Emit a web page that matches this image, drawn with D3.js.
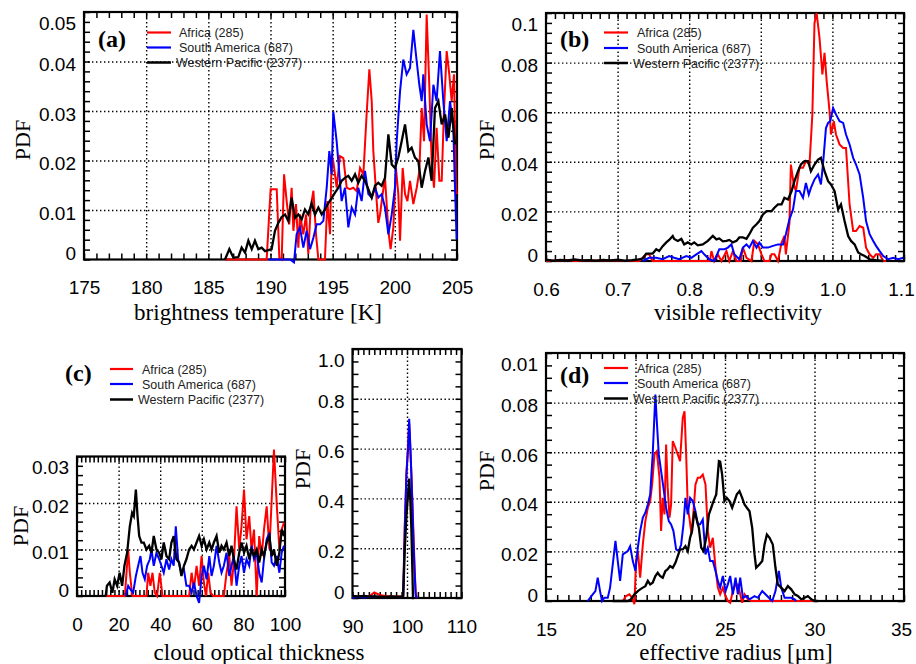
<!DOCTYPE html>
<html>
<head>
<meta charset="utf-8">
<script src="https://cdn.jsdelivr.net/npm/d3@7"></script>
<style>
  body { margin: 0; background: #fff; }
</style>
</head>
<body>
<svg id="chart" width="916" height="664"></svg>
<script>
const regions = ["Africa (285)", "South America (687)", "Western Pacific (2377)"];
const colors = ["#ff0000", "#0000ff", "#000000"];

// (a) brightness temperature [K], pairs of [value, PDF]
const tbAfrica = [[186.34,0],[189.69,0],[190.01,0.0142],[190.50,0.0142],[190.71,0.0004],[190.90,0],[191.09,0.0172],[191.30,0.0118],[191.51,0.0071],[191.70,0.0145],[191.84,0.0058],[192.05,0.0112],[192.24,0.0024],[192.37,0.0091],[192.64,0.0051],[192.86,0.0091],[193.04,0.0011],[193.23,0.0105],[193.45,0.0139],[193.66,0.0051],[193.85,0],[194.38,0],[194.57,0.0118],[194.79,0.0051],[194.92,0.0212],[195.05,0.0198],[195.32,0.0145],[195.59,0.0209],[195.86,0.0205],[196.13,0.0145],[196.39,0.0142],[196.66,0.0145],[196.93,0.0138],[197.20,0.0185],[197.47,0.0172],[197.73,0.0293],[197.95,0.0384],[198.14,0.0320],[198.27,0.0219],[198.54,0.0118],[198.67,0.0074],[198.81,0.0091],[199.02,0.0132],[199.21,0.0165],[199.48,0.0058],[199.66,0.0021],[199.88,0.0065],[200.09,0.0185],[200.28,0.0132],[200.42,0.0038],[200.63,0.0185],[200.82,0.0132],[201.01,0.0118],[201.22,0.0159],[201.49,0.0112],[201.76,0.0145],[201.97,0.0179],[202.16,0.0306],[202.35,0.0239],[202.56,0.0495],[202.77,0.0353],[202.96,0.0199],[203.15,0.0145],[203.36,0.0266],[203.58,0.0159],[203.77,0.0159],[203.95,0.0299],[204.17,0.0421],[204.38,0.0374],[204.57,0.0320],[204.76,0.0374],[204.92,0.0145],[205.0,0.0132]];
const tbSouthAmerica = [[189.83,0],[191.57,0],[191.89,-0.0006],[192.10,0.0051],[192.37,0.0065],[192.64,0.0024],[192.91,0.0058],[193.18,0.0021],[193.45,0.0044],[193.71,0.0071],[193.98,0.0071],[194.25,0.0078],[194.52,0.0145],[194.73,0.0219],[194.92,0.0172],[195.05,0.0299],[195.32,0.0239],[195.54,0.0172],[195.72,0.0118],[195.99,0.0145],[196.26,0.0065],[196.53,0.0105],[196.80,0.0091],[197.06,0.0145],[197.33,0.0118],[197.60,0.0179],[197.87,0.0132],[198.14,0.0125],[198.41,0.0145],[198.67,0.0125],[198.94,0.0132],[199.21,0.0105],[199.48,0.0051],[199.75,0.0091],[200.01,0.0145],[200.15,0.0239],[200.42,0.0340],[200.68,0.0404],[200.95,0.0374],[201.22,0.0387],[201.49,0.0464],[201.76,0.0400],[201.97,0.0353],[202.16,0.0320],[202.29,0.0374],[202.56,0.0273],[202.83,0.0239],[203.10,0.0353],[203.36,0.0320],[203.63,0.0421],[203.90,0.0320],[204.17,0.0239],[204.44,0.0320],[204.70,0.0266],[204.84,0.0145],[204.97,0.0041]];
const tbWestPacific = [[186.34,0],[186.69,0.0021],[187.01,0.0004],[187.41,0.0005],[187.68,0.0024],[187.95,0.0014],[188.22,0.0038],[188.49,0.0021],[188.75,0.0038],[189.02,0.0021],[189.29,0.0024],[189.56,0.0017],[189.83,0.0019],[190.09,0.0021],[190.36,0.0058],[190.63,0.0074],[190.90,0.0086],[191.17,0.0091],[191.43,0.0078],[191.70,0.0125],[191.97,0.0084],[192.24,0.0091],[192.51,0.0081],[192.77,0.0101],[193.04,0.0091],[193.31,0.0114],[193.58,0.0091],[193.85,0.0105],[194.12,0.0091],[194.38,0.0101],[194.65,0.0114],[194.92,0.0124],[195.19,0.0135],[195.46,0.0145],[195.72,0.0159],[195.99,0.0165],[196.26,0.0169],[196.53,0.0159],[196.80,0.0172],[197.06,0.0155],[197.33,0.0169],[197.60,0.0159],[197.87,0.0142],[198.14,0.0125],[198.41,0.0149],[198.67,0.0155],[198.94,0.0149],[199.21,0.0165],[199.48,0.0253],[199.75,0.0192],[200.01,0.0185],[200.28,0.0206],[200.55,0.0239],[200.82,0.0273],[201.09,0.0219],[201.35,0.0226],[201.62,0.0206],[201.89,0.0199],[202.16,0.0145],[202.43,0.0179],[202.70,0.0206],[202.96,0.0159],[203.23,0.0306],[203.50,0.0320],[203.77,0.0273],[204.04,0.0293],[204.31,0.0246],[204.58,0.0306],[204.84,0.0232]];

// (b) visible reflectivity
const visAfrica = [[0.6,0],[0.63,0.0004],[0.64,0],[0.70,0.0003],[0.71,0],[0.73,0],[0.735,0.0013],[0.740,0.0027],[0.744,0.0027],[0.749,0],[0.829,0],[0.831,0.0040],[0.835,0],[0.840,0.0027],[0.845,0],[0.852,0.0040],[0.856,0],[0.861,0.0040],[0.866,0],[0.872,0],[0.875,0.0054],[0.880,0.0013],[0.887,0],[0.891,0.0081],[0.896,0.0067],[0.901,0.0027],[0.905,0],[0.912,0],[0.915,0.0027],[0.919,0.0027],[0.924,0],[0.929,0.0074],[0.933,0.0101],[0.935,0.0027],[0.940,0.0154],[0.942,0.0389],[0.946,0.0309],[0.949,0.0282],[0.954,0.0376],[0.959,0.0376],[0.963,0.0403],[0.968,0.0389],[0.972,0.0590],[0.975,0.0960],[0.978,0.1000],[0.982,0.0900],[0.986,0.0752],[0.989,0.0839],[0.992,0.0725],[0.996,0.0604],[0.998,0.0510],[1.002,0.0564],[1.005,0.0510],[1.010,0.0470],[1.015,0.0456],[1.019,0.0456],[1.024,0.0228],[1.029,0.0121],[1.033,0.0121],[1.038,0.0141],[1.043,0.0134],[1.047,0.0054],[1.052,0.0027],[1.057,0.0013],[1.061,0.0027],[1.066,0.0027],[1.071,0],[1.075,0]];
const visSouthAmerica = [[0.735,0],[0.744,0.0013],[0.754,0.0013],[0.763,0.0007],[0.772,0.0020],[0.779,0.0013],[0.786,0.0007],[0.796,0.0020],[0.803,0.0013],[0.810,0.0027],[0.817,0.0040],[0.821,0.0027],[0.828,0.0007],[0.835,0],[0.842,0.0047],[0.849,0.0047],[0.854,0.0054],[0.859,0.0067],[0.863,0.0027],[0.870,0.0007],[0.875,0.0054],[0.880,0.0067],[0.884,0.0054],[0.889,0.0081],[0.894,0.0054],[0.898,0.0074],[0.903,0.0054],[0.910,0.0054],[0.917,0.0061],[0.924,0.0067],[0.931,0.0067],[0.935,0.0108],[0.940,0.0168],[0.945,0.0208],[0.949,0.0282],[0.954,0.0282],[0.959,0.0255],[0.963,0.0315],[0.967,0.0268],[0.970,0.0295],[0.975,0.0329],[0.980,0.0349],[0.984,0.0309],[0.987,0.0395],[0.991,0.0536],[0.994,0.0557],[0.997,0.0564],[1.001,0.0617],[1.005,0.0591],[1.010,0.0564],[1.015,0.0557],[1.019,0.0510],[1.024,0.0470],[1.029,0.0416],[1.033,0.0389],[1.038,0.0349],[1.043,0.0255],[1.047,0.0161],[1.052,0.0108],[1.057,0.0081],[1.061,0.0061],[1.066,0.0040],[1.071,0.0020],[1.078,0.0007],[1.085,0.0013],[1.092,0.0007],[1.099,0.0013]];
const visWestPacific = [[0.6,0.0005],[0.61,0.0001],[0.62,0.0004],[0.63,0.0002],[0.64,0.0006],[0.65,0.0002],[0.66,0.0003],[0.67,0.0001],[0.68,0.0004],[0.69,0.0002],[0.70,0.0005],[0.71,0.0001],[0.72,0.0003],[0.726,0.0005],[0.735,0.0010],[0.740,0.0030],[0.749,0.0030],[0.754,0.0047],[0.758,0.0040],[0.763,0.0060],[0.768,0.0075],[0.772,0.0085],[0.777,0.0101],[0.779,0.0089],[0.784,0.0081],[0.789,0.0089],[0.793,0.0067],[0.798,0.0075],[0.803,0.0067],[0.807,0.0075],[0.812,0.0063],[0.819,0.0067],[0.826,0.0081],[0.833,0.0101],[0.838,0.0087],[0.842,0.0091],[0.847,0.0079],[0.852,0.0081],[0.856,0.0085],[0.861,0.0075],[0.866,0.0081],[0.870,0.0095],[0.875,0.0095],[0.880,0.0089],[0.884,0.0108],[0.889,0.0134],[0.894,0.0148],[0.898,0.0161],[0.903,0.0188],[0.908,0.0201],[0.915,0.0201],[0.919,0.0215],[0.924,0.0228],[0.929,0.0228],[0.933,0.0255],[0.938,0.0248],[0.943,0.0282],[0.947,0.0322],[0.952,0.0362],[0.956,0.0389],[0.961,0.0403],[0.966,0.0403],[0.970,0.0362],[0.975,0.0389],[0.980,0.0409],[0.984,0.0416],[0.989,0.0362],[0.994,0.0322],[0.998,0.0309],[1.003,0.0282],[1.008,0.0208],[1.012,0.0228],[1.017,0.0161],[1.022,0.0101],[1.026,0.0081],[1.031,0.0067],[1.036,0.0034],[1.040,0.0027],[1.045,0.0020],[1.052,0.0007],[1.061,0.0003],[1.071,0]];

// (c) cloud optical thickness, 0-100 and 90-110
const cotAfrica = [[14.1,0],[23.0,0],[24.6,0.0100],[25.4,0.0050],[26.6,0],[33.4,0],[34.2,0.0050],[35.3,0.0022],[36.3,0.0050],[37.4,0.0007],[38.5,0],[39.8,0.0050],[41.1,0],[53.9,0],[55.1,0.0050],[56.2,0.0015],[57.5,0.0065],[58.7,0.0022],[59.9,0.0086],[61.0,0.0029],[62.0,0],[63.1,0.0050],[64.2,0.0007],[65.5,0],[70.6,0],[71.9,0.0050],[73.2,0.0086],[74.3,0.0022],[75.4,0.0072],[76.7,0.0193],[78.0,0.0100],[79.1,0.0150],[80.3,0.0229],[81.5,0.0122],[82.8,0.0172],[83.9,0.0100],[85.1,0.0143],[86.4,0],[87.6,0.0129],[88.8,0.0086],[89.9,0.0143],[91.2,0.0193],[92.5,0.0100],[93.6,0.0207],[94.7,0.0315],[96.0,0.0200],[97.3,0.0100],[98.4,0.0143],[99.5,0.0158]];
const cotSouthAmerica = [[23.4,0],[24.6,0.0022],[25.7,0.0014],[27.0,0.0007],[28.3,0.0043],[29.4,0.0065],[30.5,0.0086],[31.5,0.0050],[32.6,0.0036],[33.7,0.0065],[35.0,0.0079],[35.8,0.0100],[36.9,0.0065],[38.2,0.0093],[39.5,0.0079],[40.6,0.0065],[41.7,0.0050],[43.0,0.0079],[44.3,0.0057],[45.4,0.0079],[46.5,0.0065],[47.5,0.0150],[48.6,0.0079],[50.2,0.0050],[51.4,0.0057],[52.6,0.0022],[53.9,0.0022],[55.1,0.0007],[56.2,0.0029],[57.5,0],[58.7,-0.0015],[59.9,0.0043],[61.0,0.0065],[62.3,0.0036],[63.6,0.0086],[64.7,0.0043],[65.8,0.0065],[67.1,0.0108],[68.4,0.0072],[69.5,0.0050],[70.6,0.0065],[71.9,0.0093],[73.2,0.0043],[74.3,0.0065],[75.4,0.0086],[76.7,0.0022],[78.0,0.0065],[79.1,0.0086],[80.3,0.0050],[81.5,0.0079],[82.8,0.0065],[83.9,0.0108],[85.1,0.0079],[86.4,0.0093],[87.6,0.0050],[88.8,0.0029],[89.9,0.0079],[91.2,0.0122],[92.5,0.0136],[93.6,0.0072],[94.7,0.0065],[96.0,0.0086],[97.3,0.0050],[98.4,0.0093],[99.5,0.0108]];
const cotWestPacific = [[13.8,0],[14.4,0.0022],[15.7,0.0029],[17.0,0.0007],[18.1,0.0036],[19.3,0.0022],[20.5,0.0050],[21.7,0.0022],[22.8,0.0065],[24.1,0.0093],[25.4,0.0150],[26.5,0.0179],[27.3,0.0172],[28.3,0.0229],[29.1,0.0172],[29.9,0.0129],[31.0,0.0115],[32.1,0.0115],[33.4,0.0100],[34.7,0.0108],[35.8,0.0093],[36.9,0.0129],[38.2,0.0100],[39.5,0.0093],[40.6,0.0079],[41.7,0.0115],[43.0,0.0086],[44.3,0.0079],[45.4,0.0115],[46.5,0.0129],[47.8,0.0079],[49.1,0.0072],[50.2,0.0043],[51.4,0.0065],[52.6,0.0079],[53.9,0.0100],[55.1,0.0108],[56.2,0.0100],[57.5,0.0115],[58.7,0.0129],[59.9,0.0108],[61.0,0.0122],[62.3,0.0100],[63.6,0.0115],[64.7,0.0100],[65.8,0.0115],[67.1,0.0129],[68.4,0.0093],[69.5,0.0108],[70.6,0.0100],[71.9,0.0115],[73.2,0.0086],[74.3,0.0108],[75.4,0.0079],[76.7,0.0057],[78.0,0.0093],[79.1,0.0115],[80.3,0.0093],[81.5,0.0108],[82.8,0.0079],[83.9,0.0100],[85.1,0.0086],[86.4,0.0100],[87.6,0.0072],[88.8,0.0100],[89.9,0.0086],[91.2,0.0115],[92.5,0.0129],[93.6,0.0086],[94.7,0.0100],[96.0,0.0065],[97.3,0.0093],[98.4,0.0143],[99.5,0.0129]];
const cotHiAfrica = [[90,0.004],[91,0.004],[92,0.004],[93,0.006],[94,0.022],[95,0.012],[96,0.008],[97,0.006],[98,0.006],[99,0.006],[99.3,0.01],[99.6,0.30],[99.9,0.50],[100.2,0.62],[100.4,0.70],[100.6,0.60],[100.8,0.50],[101.0,0.38],[101.2,0.25],[101.4,0.12],[101.6,0.02],[101.8,0]];
const cotHiSouthAmerica = [[90,0],[91,0.005],[92,0.002],[93,0.004],[94,0.006],[95,0.004],[96,0.003],[97,0.005],[98,0.004],[99,0.003],[99.3,0.01],[99.6,0.28],[99.9,0.50],[100.2,0.60],[100.4,0.72],[100.6,0.62],[100.8,0.50],[101.0,0.36],[101.2,0.22],[101.4,0.10],[101.6,0.01],[101.8,0]];
const cotHiWestPacific = [[90,0.008],[91,0.006],[92,0.008],[93,0.006],[94,0.006],[95,0.005],[96,0.004],[97,0.006],[98,0.005],[99,0.005],[99.3,0.006],[99.6,0.20],[99.9,0.33],[100.2,0.42],[100.4,0.48],[100.6,0.40],[100.8,0.28],[101.0,0.10],[101.1,0],[101.3,0]];

// (d) effective radius [um]
const reAfrica = [[19.29,0],[19.47,0.0020],[19.66,0.0027],[19.81,0.0013],[19.94,-0.0013],[20.03,0.0161],[20.13,0.0201],[20.26,0.0094],[20.41,0.0228],[20.55,0.0322],[20.69,0.0376],[20.82,0.0403],[20.93,0.0470],[21.06,0.0591],[21.19,0.0604],[21.34,0.0497],[21.43,0.0282],[21.52,0.0416],[21.62,0.0349],[21.71,0.0631],[21.80,0.0456],[21.90,0.0336],[21.99,0.0389],[22.08,0.0645],[22.23,0.0618],[22.36,0.0591],[22.49,0.0564],[22.64,0.0739],[22.74,0.0765],[22.83,0.0591],[22.92,0.0376],[23.01,0.0336],[23.13,0.0269],[23.24,0.0362],[23.35,0.0470],[23.48,0.0497],[23.61,0.0497],[23.76,0.0510],[23.91,0.0470],[24.04,0.0282],[24.17,0.0215],[24.32,0.0255],[24.47,0.0134],[24.60,0.0054],[24.73,0.0027],[24.88,0.0054],[25.03,0.0020],[25.16,0],[25.29,-0.0007],[25.44,0.0040],[25.59,0.0067],[25.72,0.0067],[25.85,0.0027],[25.96,-0.0007],[26.09,0.0027],[26.28,0.0007],[26.46,0],[30.19,0]];
const reSouthAmerica = [[17.33,0],[17.61,0.0027],[17.76,0.0040],[17.89,0.0094],[18.02,0.0040],[18.13,0],[18.26,0.0013],[18.45,0.0013],[18.58,0.0054],[18.73,0.0148],[18.88,0.0242],[19.01,0.0161],[19.14,0.0081],[19.29,0.0188],[19.44,0.0195],[19.57,0.0201],[19.70,0.0221],[19.85,0.0161],[20.00,0.0121],[20.13,0.0215],[20.26,0.0282],[20.41,0.0336],[20.55,0.0356],[20.69,0.0389],[20.82,0.0430],[20.96,0.0590],[21.11,0.0832],[21.19,0.0725],[21.30,0.0591],[21.43,0.0524],[21.56,0.0457],[21.71,0.0376],[21.86,0.0322],[21.99,0.0309],[22.12,0.0282],[22.27,0.0208],[22.42,0.0201],[22.55,0.0228],[22.68,0.0309],[22.79,0.0416],[22.92,0.0349],[23.05,0.0416],[23.20,0.0403],[23.35,0.0362],[23.48,0.0309],[23.61,0.0309],[23.76,0.0329],[23.91,0.0188],[24.04,0.0215],[24.17,0.0161],[24.32,0.0161],[24.47,0.0121],[24.60,0.0081],[24.73,0.0054],[24.88,0.0101],[25.03,0.0040],[25.16,0.0067],[25.29,0.0101],[25.44,0.0027],[25.59,0.0094],[25.72,0.0027],[25.85,0.0094],[26.00,0.0013],[26.18,0.0020],[26.37,0.0007],[26.65,0.0020],[26.84,0.0013],[27.08,0.0040],[27.26,0.0027],[27.45,0.0013],[27.64,0],[27.82,0.0040],[28.01,0.0121],[28.14,0.0054],[28.33,0.0013],[28.51,0.0013],[28.70,0.0013],[28.89,0.0007],[28.98,0]];
const reWestPacific = [[18.73,0],[19.57,0],[19.75,0.0007],[19.94,0.0027],[20.13,0.0040],[20.26,0.0047],[20.41,0.0054],[20.55,0.0060],[20.69,0.0081],[20.82,0.0067],[20.96,0.0074],[21.11,0.0101],[21.24,0.0114],[21.37,0.0101],[21.52,0.0094],[21.67,0.0121],[21.80,0.0128],[21.93,0.0141],[22.08,0.0134],[22.23,0.0154],[22.36,0.0181],[22.49,0.0208],[22.64,0.0208],[22.79,0.0221],[22.92,0.0201],[23.05,0.0255],[23.16,0.0282],[23.29,0.0362],[23.39,0.0336],[23.54,0.0295],[23.67,0.0215],[23.80,0.0201],[23.95,0.0255],[24.10,0.0349],[24.23,0.0376],[24.36,0.0403],[24.51,0.0430],[24.66,0.0564],[24.73,0.0562],[24.84,0.0510],[24.97,0.0403],[25.10,0.0416],[25.25,0.0403],[25.40,0.0376],[25.53,0.0403],[25.66,0.0430],[25.81,0.0443],[25.96,0.0416],[26.09,0.0389],[26.22,0.0376],[26.37,0.0362],[26.52,0.0295],[26.65,0.0188],[26.74,0.0134],[26.93,0.0148],[27.08,0.0161],[27.21,0.0228],[27.34,0.0268],[27.49,0.0255],[27.67,0.0228],[27.82,0.0134],[27.95,0.0067],[28.14,0.0054],[28.33,0.0040],[28.51,0.0060],[28.70,0.0047],[28.89,0.0027],[29.07,0.0020],[29.26,0.0007],[29.45,0.0013],[29.63,0.0020],[29.82,0.0007],[30.00,0],[30.19,0]];

// tick values and labels
const tbTicks = [175, 180, 185, 190, 195, 200, 205];
const tbTickLabels = ["175", "180", "185", "190", "195", "200", "205"];
const tbPdfTicks = [0, 0.01, 0.02, 0.03, 0.04, 0.05];
const tbPdfLabels = ["0", "0.01", "0.02", "0.03", "0.04", "0.05"];
const visTicks = [0.6, 0.7, 0.8, 0.9, 1.0, 1.1];
const visTickLabels = ["0.6", "0.7", "0.8", "0.9", "1.0", "1.1"];
const visPdfTicks = [0, 0.02, 0.04, 0.06, 0.08, 0.1];
const visPdfLabels = ["0", "0.02", "0.04", "0.06", "0.08", "0.1"];
const cotTicks = [0, 20, 40, 60, 80, 100];
const cotTickLabels = ["0", "20", "40", "60", "80", "100"];
const cotPdfTicks = [0, 0.01, 0.02, 0.03];
const cotPdfLabels = ["0", "0.01", "0.02", "0.03"];
const cotHiTicks = [90, 100, 110];
const cotHiTickLabels = ["90", "100", "110"];
const cotHiPdfTicks = [0, 0.2, 0.4, 0.6, 0.8, 1.0];
const cotHiPdfLabels = ["0", "0.2", "0.4", "0.6", "0.8", "1.0"];
const reTicks = [15, 20, 25, 30, 35];
const reTickLabels = ["15", "20", "25", "30", "35"];
const rePdfTicks = [0, 0.02, 0.04, 0.06, 0.08, 0.1];
const rePdfLabels = ["0", "0.02", "0.04", "0.06", "0.08", "0.01"];

const svg = d3.select("#chart");
const sans = "'Liberation Sans', Arial, Helvetica, sans-serif";
const serif = "'Liberation Serif', 'Times New Roman', serif";

function drawPanel(p) {
  const x = d3.scaleLinear().domain(p.xDomain).range([p.left, p.right]);
  const y = d3.scaleLinear().domain(p.yDomain).range([p.bottom, p.top]);
  const w = p.right - p.left, h = p.bottom - p.top;
  const g = svg.append("g");

  // dotted grid on inner major ticks
  const inner = t => t.slice(1, -1);
  const gx = g.append("g").attr("transform", `translate(0,${p.bottom})`)
    .call(d3.axisBottom(x).tickValues(inner(p.xTicks)).tickSize(-h).tickFormat(""));
  const gy = g.append("g").attr("transform", `translate(${p.left},0)`)
    .call(d3.axisLeft(y).tickValues(inner(p.yTicks)).tickSize(-w).tickFormat(""));
  [gx, gy].forEach(a => {
    a.select(".domain").remove();
    a.selectAll("line").attr("stroke", "#000").attr("stroke-width", 1.4).attr("stroke-dasharray", "1.4,2.6");
  });

  // minor ticks on all four sides, pointing inward
  const mx = d3.range(p.xDomain[0], p.xDomain[1] + p.xMinor / 2, p.xMinor);
  const my = d3.range(p.yDomain[0], p.yDomain[1] + p.yMinor / 2, p.yMinor);
  [
    [d3.axisBottom(x).tickValues(mx), `translate(0,${p.bottom})`],
    [d3.axisTop(x).tickValues(mx), `translate(0,${p.top})`],
    [d3.axisLeft(y).tickValues(my), `translate(${p.left},0)`],
    [d3.axisRight(y).tickValues(my), `translate(${p.right},0)`]
  ].forEach(([ax, tr]) => {
    const a = g.append("g").attr("transform", tr).call(ax.tickSize(-6).tickFormat(""));
    a.select(".domain").remove();
    a.selectAll("line").attr("stroke", "#000").attr("stroke-width", 1.5);
  });

  g.append("rect").attr("x", p.left).attr("y", p.top).attr("width", w).attr("height", h)
    .attr("fill", "none").attr("stroke", "#000").attr("stroke-width", 2.2);

  // tick labels
  const xl = g.append("g").attr("transform", `translate(0,${p.bottom})`)
    .call(d3.axisBottom(x).tickValues(p.xTicks).tickFormat((d, i) => p.xLabels[i]).tickSize(0).tickPadding(21.5));
  const yl = g.append("g").attr("transform", `translate(${p.left},0)`)
    .call(d3.axisLeft(y).tickValues(p.yTicks).tickFormat((d, i) => p.yLabels[i]).tickSize(0).tickPadding(8));
  [xl, yl].forEach(a => {
    a.select(".domain").remove();
    a.attr("font-family", sans).attr("font-size", 19);
    a.selectAll("text").attr("fill", "#000");
  });
  const n = p.yTicks.length;
  yl.selectAll("text").attr("y", (d, i) => i === 0 ? -6 : i === n - 1 ? 11 : 3);
  // keep the last x label inside the picture when the box reaches the right edge
  if (p.right > 880) {
    xl.selectAll("text").filter((d, i) => i === p.xTicks.length - 1).attr("x", -3);
  }

  // series
  const line = d3.line().x(d => x(d[0])).y(d => y(d[1]));
  p.series.forEach((s, i) => {
    g.append("path").datum(s).attr("d", line).attr("fill", "none")
      .attr("stroke", colors[i]).attr("stroke-width", i === 2 ? 2.3 : 2);
  });

  if (p.yTitle) {
    g.append("text").attr("transform", `translate(${p.yTitle[0]},${p.yTitle[1]}) rotate(-90)`)
      .attr("text-anchor", "middle").attr("font-family", serif).attr("font-size", 22).text("PDF");
  }
  if (p.xTitle) {
    g.append("text").attr("x", p.xTitle[1]).attr("y", p.xTitle[2]).attr("text-anchor", "middle")
      .attr("font-family", serif).attr("font-size", 23).text(p.xTitle[0]);
  }
  if (p.tag) {
    g.append("text").attr("x", p.tag[1]).attr("y", p.tag[2]).attr("font-family", serif)
      .attr("font-weight", "bold").attr("font-size", 24).text(p.tag[0]);
  }
  if (p.legend) {
    const L = p.legend;
    regions.forEach((r, i) => {
      const ly = L.y[i];
      g.append("line").attr("x1", L.x1).attr("x2", L.x2).attr("y1", ly).attr("y2", ly)
        .attr("stroke", colors[i]).attr("stroke-width", i === 2 ? 2.5 : 2.2);
      g.append("text").attr("x", L.tx[i]).attr("y", ly + 4.5).attr("font-family", sans)
        .attr("font-size", 12.5).attr("fill", "#222").text(r);
    });
  }
}

drawPanel({
  left: 84, right: 457, top: 12, bottom: 259.5,
  xDomain: [175, 205], yDomain: [0, 0.05],
  xTicks: tbTicks, xLabels: tbTickLabels, yTicks: tbPdfTicks, yLabels: tbPdfLabels,
  xMinor: 1, yMinor: 0.002,
  series: [tbAfrica, tbSouthAmerica, tbWestPacific],
  yTitle: [30, 140], xTitle: ["brightness temperature [K]", 258, 320], tag: ["(a)", 98, 47],
  legend: { x1: 147, x2: 171, tx: [179, 179, 176], y: [32.5, 47.5, 62.5] }
});

drawPanel({
  left: 546, right: 904, top: 13, bottom: 261,
  xDomain: [0.6, 1.1], yDomain: [0, 0.1],
  xTicks: visTicks, xLabels: visTickLabels, yTicks: visPdfTicks, yLabels: visPdfLabels,
  xMinor: 0.0125, yMinor: 0.004,
  series: [visAfrica, visSouthAmerica, visWestPacific],
  yTitle: [494, 140], xTitle: ["visible reflectivity", 738, 320], tag: ["(b)", 560, 47],
  legend: { x1: 604, x2: 628, tx: [637, 637, 633], y: [32.5, 48, 63] }
});

drawPanel({
  left: 77, right: 285, top: 456.5, bottom: 596,
  xDomain: [0, 100], yDomain: [0, 0.03],
  xTicks: cotTicks, xLabels: cotTickLabels, yTicks: cotPdfTicks, yLabels: cotPdfLabels,
  xMinor: 2, yMinor: 0.002,
  series: [cotAfrica, cotSouthAmerica, cotWestPacific],
  yTitle: [28, 526], xTitle: ["cloud optical thickness", 259, 660], tag: ["(c)", 65, 381],
  legend: { x1: 110, x2: 133, tx: [142, 142, 138], y: [369, 384, 399.5] }
});

drawPanel({
  left: 352.5, right: 461.5, top: 349, bottom: 598,
  xDomain: [90, 110], yDomain: [0, 1.0],
  xTicks: cotHiTicks, xLabels: cotHiTickLabels, yTicks: cotHiPdfTicks, yLabels: cotHiPdfLabels,
  xMinor: 1, yMinor: 0.05,
  series: [cotHiAfrica, cotHiSouthAmerica, cotHiWestPacific],
  yTitle: [310, 469]
});

drawPanel({
  left: 546, right: 904, top: 353, bottom: 601,
  xDomain: [15, 35], yDomain: [0, 0.1],
  xTicks: reTicks, xLabels: reTickLabels, yTicks: rePdfTicks, yLabels: rePdfLabels,
  xMinor: 0.625, yMinor: 0.005,
  series: [reAfrica, reSouthAmerica, reWestPacific],
  yTitle: [494, 471], xTitle: ["effective radius [\u03bcm]", 736, 660], tag: ["(d)", 560, 383],
  legend: { x1: 604, x2: 628, tx: [637, 637, 633], y: [368, 383, 398.5] }
});
</script>
</body>
</html>
